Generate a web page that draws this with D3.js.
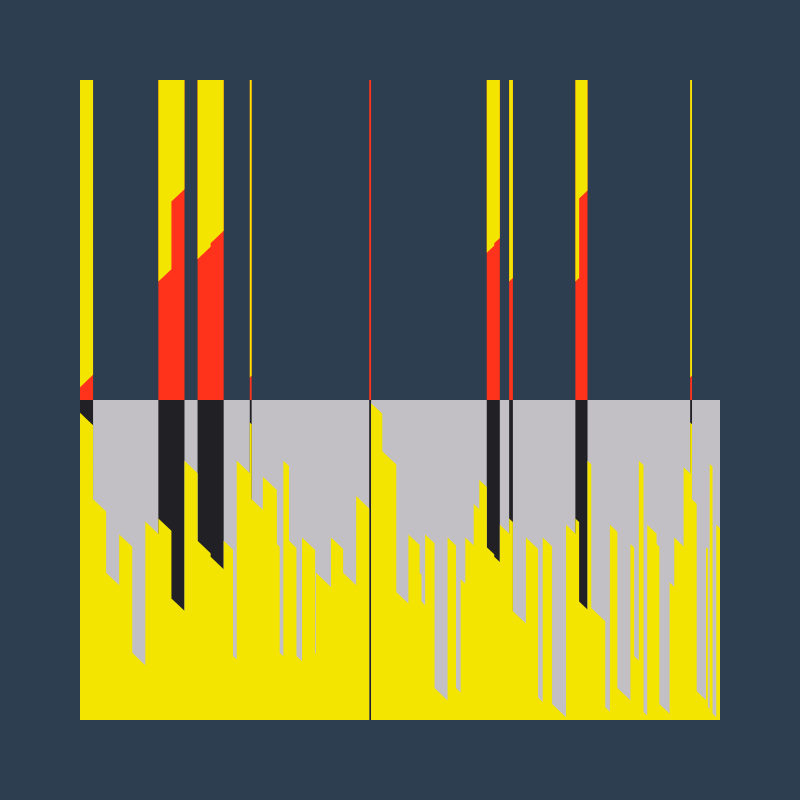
<!DOCTYPE html>
<html>
<head>
<meta charset="utf-8">
<script src="https://cdn.jsdelivr.net/npm/d3@7"></script>
<style>
  html, body { margin: 0; padding: 0; background: #2c3e50; }
  svg { display: block; }
</style>
</head>
<body>
<div id="chart"></div>
<script>
// ---- Data ----
// start day of each column
const days = [0, 7, 14, 21, 28, 35, 42, 49, 56, 63,
  70, 77, 82, 84, 91, 92, 98, 105.5, 107, 109,
  112, 116, 119, 126, 126.5, 134.5, 141, 148, 155, 156,
  162, 169.5, 176, 182, 183, 185, 190, 197, 201.5, 204,
  206.5, 211, 214, 218, 222, 225, 230, 232, 239, 245.5,
  248, 253, 260.5, 265.5, 267.5, 272, 274, 281.5, 284, 288,
  295, 297, 299.5, 302, 304, 309, 310.5, 316, 318.5, 323.5,
  327, 328, 330.5, 335.5, 336.5, 337.5, 339, 341];
// yellow share (%) in the lower panel at each column start
const yellow = [96, 69, 46, 58, 21, 62, 63, 38, 81, 56,
  51, 56, 20, 81, 93, 69, 76, 55, 21, 81,
  56, 20, 57, 21, 46, 57, 46, 70, 0, 99,
  84, 40, 58, 46, 37, 58, 10, 57, 10, 44,
  57, 67.5, 75, 54, 51, 61, 63, 34, 57, 7,
  57, 5, 61, 63, 37, 81, 35, 4, 61, 10,
  55, 20, 81, 2.5, 61, 55, 5, 43, 57, 79,
  93, 69, 9, 54, 4, 80, 2, 61];
// black share (%) hanging from the middle line (mirrored as red above it)
const black = [4, 0, 0, 0, 0, 0, 37, 62, 0, 44,
  49, 0, 0, 0, 7, 0, 0, 0, 0, 0,
  0, 0, 0, 0, 0, 0, 0, 0, 100, 0,
  0, 0, 0, 0, 0, 0, 0, 0, 0, 0,
  0, 0, 0, 46, 49, 0, 37, 0, 0, 0,
  0, 0, 0, 37, 63, 0, 0, 0, 0, 0,
  0, 0, 0, 0, 0, 0, 0, 0, 0, 0,
  7, 0, 0, 0, 0, 0, 0, 0];
const endDay = 343;

const COLORS = {
  bg: "#2c3e50", yellow: "#f4e500", red: "#ff331c", grey: "#c2c0c4", black: "#212125"
};

// ---- Setup ----
const W = 800, H = 800;
const svg = d3.select("#chart").append("svg").attr("width", W).attr("height", H);
svg.append("rect").attr("width", W).attr("height", H).attr("fill", COLORS.bg);

const x = d3.scaleLinear().domain([0, endDay]).range([80, 720]);
const yBot = d3.scaleLinear().domain([0, 100]).range([720, 400]);
const yTop = d3.scaleLinear().domain([0, 100]).range([400, 80]);

const rows = days.map((d, i) => ({ day: d, yellow: yellow[i], black: black[i] }));
rows.push({ day: endDay, yellow: yellow[yellow.length - 1], black: black[black.length - 1] });

// Slanted step curve: each run leans by `slope` px per px; baseline drawn straight.
function curveSlant(slope) {
  return function(context) {
    let pts = [], area = NaN;
    return {
      areaStart() { area = 0; },
      areaEnd() { area = NaN; },
      lineStart() { pts = []; },
      point(px, py) { pts.push([+px, +py]); },
      lineEnd() {
        const second = area === 1;
        let verts = [];
        if (!second) {
          for (let i = 0; i < pts.length; i++) {
            const [x0, y0] = pts[i];
            verts.push([x0, y0]);
            if (i < pts.length - 1) {
              const x1 = pts[i + 1][0];
              verts.push([x1, y0 + slope * (x1 - x0)]);
            }
          }
        } else verts = pts;
        verts.forEach((v, i) => {
          if (i === 0 && !second) context.moveTo(v[0], v[1]);
          else context.lineTo(v[0], v[1]);
        });
        if (second) context.closePath();
        if (area === 0) area = 1;
      }
    };
  };
}

const defs = svg.append("defs");
defs.append("clipPath").attr("id", "clipBot").append("rect")
  .attr("x", 80).attr("y", 400).attr("width", 640).attr("height", 320);
defs.append("clipPath").attr("id", "clipTop").append("rect")
  .attr("x", 80).attr("y", 80).attr("width", 640).attr("height", 320);

// ---- Lower panel ----
const gBot = svg.append("g").attr("clip-path", "url(#clipBot)");
gBot.append("rect").attr("x", 80).attr("y", 400).attr("width", 640).attr("height", 320)
  .attr("fill", COLORS.grey);

gBot.append("path").datum(rows)
  .attr("fill", COLORS.black)
  .attr("d", d3.area().curve(d3.curveStepAfter)
    .x(d => x(d.day)).y0(yBot(0)).y1(d => yBot(d.black > 0 ? 100 : 0)));

gBot.append("path").datum(rows)
  .attr("fill", COLORS.yellow)
  .attr("d", d3.area().curve(curveSlant(0.95))
    .x(d => x(d.day)).y0(yBot(0)).y1(d => yBot(d.yellow)));

// ---- Upper panel (mirror of the dark columns) ----
const gTop = svg.append("g").attr("clip-path", "url(#clipTop)");
gTop.append("path").datum(rows)
  .attr("fill", COLORS.red)
  .attr("d", d3.area().curve(d3.curveStepAfter)
    .x(d => x(d.day)).y0(yTop(0)).y1(d => yTop(d.black > 0 ? 100 : 0)));

gTop.append("path").datum(rows)
  .attr("fill", COLORS.yellow)
  .attr("d", d3.area().curve(curveSlant(-0.95))
    .x(d => x(d.day)).y0(yTop(100)).y1(d => yTop(d.black > 0 ? d.black : 100)));
</script>
</body>
</html>
